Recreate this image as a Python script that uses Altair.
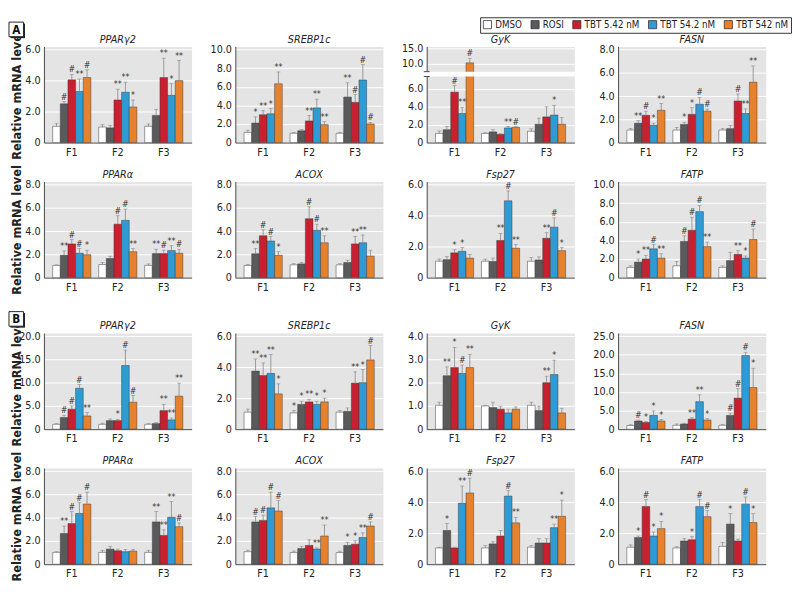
import altair as alt
import pandas as pd

treatments = ["DMSO", "ROSI", "TBT 5.42 nM", "TBT 54.2 nM", "TBT 542 nM"]
generations = ["F1", "F2", "F3"]
bar_colors = ["#ffffff", "#5a5a5c", "#c8202f", "#2f9bd5", "#e6822e"]
gene_titles = ["PPARγ2", "SREBP1c", "GyK", "FASN", "PPARα", "ACOX", "Fsp27", "FATP"]

# ---- values: order F1 (5 treatments), F2 (5), F3 (5); top = mean + SD ----
A_PPARg2_mean = [1.05, 2.5, 4.05, 3.3, 4.2, 1.0, 0.95, 2.75, 3.25, 2.3, 1.05, 1.75, 4.2, 3.05, 4.0]
A_PPARg2_top = [1.25, 2.65, 4.4, 4.1, 4.7, 1.15, 1.1, 3.45, 3.9, 2.75, 1.2, 2.15, 5.45, 3.8, 5.3]
A_PPARg2_sig = ["", "#", "#", "**", "#", "", "", "**", "**", "*", "", "", "**", "*", "**"]

A_SREBP1c_mean = [1.1, 2.1, 3.0, 3.1, 6.33, 1.0, 1.27, 2.33, 3.73, 1.93, 1.0, 4.9, 4.33, 6.73, 2.0]
A_SREBP1c_top = [1.33, 2.77, 3.43, 3.67, 7.6, 1.1, 1.4, 2.9, 4.67, 2.27, 1.1, 6.43, 5.17, 8.4, 2.17]
A_SREBP1c_sig = ["", "*", "**", "*", "**", "", "", "**", "**", "**", "", "**", "#", "#", "#"]

A_GyK_mean = [1.03, 1.44, 5.65, 3.25, 10.3, 1.03, 1.2, 0.92, 1.64, 1.7, 1.27, 2.05, 2.88, 3.08, 2.05]
A_GyK_top = [1.3, 1.8, 6.4, 3.94, 11.8, 1.1, 1.44, 1.0, 1.8, 1.78, 1.54, 2.74, 4.0, 4.18, 2.8]
A_GyK_sig = ["", "", "#", "**", "#", "", "", "", "**", "#", "", "", "", "*", ""]

A_FASN_mean = [1.08, 1.67, 2.35, 1.48, 2.78, 1.08, 1.56, 2.43, 3.3, 2.7, 1.08, 1.2, 3.58, 2.5, 5.2]
A_FASN_top = [1.2, 1.89, 2.7, 1.67, 3.37, 1.3, 1.75, 3.0, 3.9, 2.88, 1.2, 1.48, 4.18, 2.9, 6.6]
A_FASN_sig = ["", "**", "#", "*", "**", "", "*", "*", "#", "#", "", "", "#", "**", "**"]

A_PPARa_mean = [1.05, 1.92, 2.9, 2.1, 1.97, 1.13, 1.65, 4.6, 4.93, 2.23, 1.05, 2.07, 2.07, 2.33, 2.1]
A_PPARa_top = [1.1, 2.3, 3.28, 2.5, 2.36, 1.3, 1.84, 5.33, 5.9, 2.5, 1.18, 2.44, 2.36, 2.75, 2.44]
A_PPARa_sig = ["", "**", "#", "#", "*", "", "", "#", "#", "**", "", "**", "#", "**", "#"]

A_ACOX_mean = [1.05, 2.05, 3.6, 3.15, 1.92, 1.1, 1.18, 5.07, 4.07, 3.0, 1.1, 1.3, 2.9, 3.0, 1.85]
A_ACOX_top = [1.13, 2.5, 4.12, 3.54, 2.23, 1.2, 1.3, 6.1, 4.6, 3.6, 1.2, 1.5, 3.54, 3.67, 2.36]
A_ACOX_sig = ["", "**", "#", "#", "*", "", "", "#", "#", "**", "", "", "**", "**", ""]

A_Fsp27_mean = [1.06, 1.16, 1.6, 1.7, 1.26, 1.06, 1.04, 2.4, 4.96, 1.9, 1.06, 1.14, 2.54, 3.26, 1.74]
A_Fsp27_top = [1.2, 1.36, 1.8, 1.94, 1.5, 1.2, 1.26, 2.86, 5.6, 2.14, 1.3, 1.34, 2.9, 3.86, 1.94]
A_Fsp27_sig = ["", "", "*", "*", "", "", "", "**", "#", "**", "", "", "**", "#", "*"]

A_FATP_mean = [1.1, 1.67, 2.0, 3.1, 2.1, 1.27, 3.9, 5.1, 7.1, 3.33, 1.1, 1.83, 2.5, 2.1, 4.1]
A_FATP_top = [1.27, 2.0, 2.4, 3.57, 2.57, 1.73, 4.5, 6.5, 7.77, 3.83, 1.27, 2.73, 2.9, 2.33, 5.23]
A_FATP_sig = ["", "*", "**", "#", "**", "", "#", "#", "#", "**", "", "", "**", "*", "#"]

B_PPARg2_mean = [1.05, 2.5, 4.3, 8.8, 2.85, 1.05, 1.85, 1.85, 13.7, 5.8, 1.05, 1.2, 4.0, 2.0, 7.1]
B_PPARg2_top = [1.2, 3.0, 5.0, 9.6, 3.6, 1.3, 2.2, 2.1, 17.0, 7.25, 1.2, 1.4, 5.35, 2.4, 9.9]
B_PPARg2_sig = ["", "#", "#", "#", "**", "", "", "*", "#", "#", "", "", "**", "**", "**"]

B_SREBP1c_mean = [1.1, 3.75, 3.46, 3.6, 2.28, 1.05, 1.6, 1.76, 1.6, 1.76, 1.1, 1.15, 2.97, 3.0, 4.47]
B_SREBP1c_top = [1.3, 4.53, 4.28, 4.82, 2.93, 1.2, 1.8, 1.93, 1.8, 2.0, 1.2, 1.37, 3.7, 3.85, 5.4]
B_SREBP1c_sig = ["", "**", "**", "**", "*", "*", "*", "**", "*", "*", "", "", "**", "*", "#"]

B_GyK_mean = [1.03, 2.3, 2.65, 2.4, 2.65, 1.0, 0.93, 0.86, 0.7, 0.86, 1.03, 0.8, 2.0, 2.35, 0.7]
B_GyK_top = [1.16, 2.68, 3.52, 2.76, 3.22, 1.03, 1.16, 0.99, 0.86, 0.96, 1.16, 0.99, 2.28, 2.97, 0.9]
B_GyK_sig = ["", "**", "*", "#", "**", "", "", "", "", "", "", "", "**", "*", ""]

B_FASN_mean = [1.0, 2.2, 1.8, 3.7, 2.2, 1.05, 1.4, 2.7, 7.4, 2.45, 1.05, 3.7, 8.35, 19.8, 11.2]
B_FASN_top = [1.2, 2.45, 2.05, 4.9, 2.6, 1.4, 1.6, 3.1, 9.25, 2.85, 1.3, 4.3, 10.9, 20.7, 16.4]
B_FASN_sig = ["", "#", "*", "*", "*", "", "", "**", "**", "*", "", "#", "#", "#", "*"]

B_PPARa_mean = [1.02, 2.64, 3.5, 4.37, 5.18, 1.02, 1.3, 1.16, 1.08, 1.13, 1.02, 3.64, 2.48, 4.04, 3.23]
B_PPARa_top = [1.08, 3.29, 4.53, 5.31, 6.2, 1.2, 1.54, 1.3, 1.27, 1.27, 1.2, 4.53, 2.96, 5.39, 3.56]
B_PPARa_sig = ["", "**", "#", "#", "#", "", "", "", "", "", "", "**", "**", "**", "#"]

B_ACOX_mean = [1.08, 3.64, 3.77, 4.85, 4.58, 1.0, 1.35, 1.62, 1.3, 2.43, 1.0, 1.62, 1.72, 2.29, 3.29]
B_ACOX_top = [1.21, 4.1, 4.23, 6.2, 5.47, 1.13, 1.54, 2.1, 1.4, 3.37, 1.13, 1.89, 2.02, 2.7, 3.64]
B_ACOX_sig = ["", "#", "#", "#", "#", "", "", "", "**", "**", "", "*", "*", "**", "#"]

B_Fsp27_mean = [1.05, 2.18, 1.05, 3.94, 4.6, 1.05, 1.31, 1.82, 4.4, 2.67, 1.1, 1.37, 1.37, 2.36, 3.09]
B_Fsp27_top = [1.1, 2.63, 1.1, 5.05, 5.55, 1.2, 1.45, 2.18, 4.75, 3.03, 1.2, 1.65, 1.65, 2.59, 4.14]
B_Fsp27_sig = ["", "*", "", "**", "#", "", "", "", "#", "**", "", "", "", "**", "*"]

B_FATP_mean = [1.1, 1.72, 3.73, 1.82, 2.3, 1.05, 1.5, 1.58, 3.72, 3.07, 1.15, 2.59, 1.5, 3.88, 2.69]
B_FATP_top = [1.25, 1.82, 4.18, 2.08, 2.77, 1.13, 1.65, 1.78, 4.18, 3.47, 1.41, 3.27, 1.62, 4.34, 3.27]
B_FATP_sig = ["", "*", "#", "*", "*", "", "", "*", "#", "#", "", "*", "", "#", "*"]

# y-axis tick values per panel
A_ticks = [[0, 2, 4, 6], [0, 2, 4, 6, 8, 10], [0, 2, 4, 6, 10, 15], [0, 2, 4, 6, 8],
           [0, 2, 4, 6, 8], [0, 2, 4, 6, 8], [0, 2, 4, 6], [0, 2, 4, 6, 8, 10]]
B_ticks = [[0, 5, 10, 15, 20], [0, 2, 4, 6], [0, 1, 2, 3, 4], [0, 5, 10, 15, 20, 25],
           [0, 2, 4, 6, 8], [0, 2, 4, 6, 8], [0, 2, 4, 6], [0, 2, 4, 6]]

FONT = "Liberation Sans Narrow, DejaVu Sans Condensed, Arial Narrow, sans-serif"
W, H = 152, 99
ERR = "#858585"
LABEL_EXPR = "datum.value == 0 ? '0' : format(datum.value, '.1f')"


def frame(mean, top, sig):
    rows = []
    for gi, g in enumerate(generations):
        for ti, t in enumerate(treatments):
            k = gi * 5 + ti
            rows.append(dict(gen=g, treatment=t, mean=mean[k], top=top[k], sig=sig[k]))
    return pd.DataFrame(rows)


legend = alt.Legend(orient="none", legendX=449, legendY=-30, direction="horizontal", columns=5,
                    title=None, symbolType="square", symbolSize=70, symbolStrokeColor="#333",
                    symbolStrokeWidth=0.8, labelFont=FONT, labelFontSize=10, labelColor="#222",
                    labelOffset=3, columnPadding=7, padding=2.5, strokeColor="#333",
                    fillColor="white")


def label_box(letter, y0):
    d = pd.DataFrame({"lbl": [letter]})
    shadow = alt.Chart(d).mark_rect(fill="#222").encode(
        x=alt.value(-34.5), x2=alt.value(-19.5), y=alt.value(y0 + 1.5), y2=alt.value(y0 + 16.5))
    box = alt.Chart(d).mark_rect(fill="white", stroke="#222", strokeWidth=1).encode(
        x=alt.value(-36), x2=alt.value(-21), y=alt.value(y0), y2=alt.value(y0 + 15))
    txt = alt.Chart(d).mark_text(fontSize=12, fontWeight="bold", font=FONT, color="#111").encode(
        x=alt.value(-28.5), y=alt.value(y0 + 8), text="lbl:N")
    return [shadow, box, txt]


def break_marks():
    d = pd.DataFrame({"k": [0]})
    gap = alt.Chart(d).mark_rect(fill="white").encode(
        x=alt.value(-3), x2=alt.value(W + 1), y=alt.value(26), y2=alt.value(31))
    t1 = alt.Chart(d).mark_rule(color="#444", strokeWidth=1).encode(
        x=alt.value(-3), x2=alt.value(3), y=alt.value(26))
    t2 = alt.Chart(d).mark_rule(color="#444", strokeWidth=1).encode(
        x=alt.value(-3), x2=alt.value(3), y=alt.value(31))
    return [gap, t1, t2]


def panel(title, mean, top, sig, ticks, first=False, label=None, label_y=0, broken=False):
    df = frame(mean, top, sig)
    if broken:
        yscale = alt.Scale(domain=[0, 7.4, 7.41, 15.7], range=[H, 31, 26, 0], nice=False, zero=False)
    else:
        yscale = alt.Scale(domain=[0, ticks[-1] * 1.035], nice=False)
    axis_kw = dict(values=ticks, labelExpr=LABEL_EXPR, grid=True, ticks=False, labelPadding=4,
                   minExtent=19, maxExtent=19)
    if first:
        yaxis = alt.Axis(title="Relative mRNA level", titleFontSize=13, titleFontWeight="bold",
                         titlePadding=2, titleColor="#222", **axis_kw)
    else:
        yaxis = alt.Axis(title=None, **axis_kw)
    x = alt.X("gen:N", sort=generations, scale=alt.Scale(paddingInner=0.17, paddingOuter=0.19),
              axis=alt.Axis(title=None, labelAngle=0, ticks=False, labelPadding=4, grid=False))
    xo = alt.XOffset("treatment:N", sort=treatments, scale=alt.Scale(paddingInner=0, paddingOuter=0))
    base = alt.Chart(df).encode(x=x, xOffset=xo)
    bars = base.mark_bar(stroke="#3a3a3a", strokeWidth=0.5).encode(
        y=alt.Y("mean:Q", scale=yscale, axis=yaxis),
        color=alt.Color("treatment:N", sort=treatments,
                        scale=alt.Scale(domain=treatments, range=bar_colors), legend=legend))
    rules = base.mark_rule(color=ERR, strokeWidth=0.8).encode(
        y=alt.Y("mean:Q", scale=yscale, axis=yaxis), y2="top:Q")
    caps = base.mark_tick(color=ERR, thickness=0.8, size=4, orient="horizontal").encode(
        y=alt.Y("top:Q", scale=yscale, axis=yaxis))
    marks = base.transform_filter("datum.sig != ''").mark_text(
        fontSize=9, color="#333", baseline="alphabetic", dy=-2, font=FONT).encode(
        y=alt.Y("top:Q", scale=yscale, axis=yaxis), text="sig:N")
    ttl = alt.Chart(pd.DataFrame({"t": [title]})).mark_text(
        fontSize=11, fontStyle="italic", font=FONT, color="#222", baseline="alphabetic").encode(
        x=alt.value(W / 2), y=alt.value(-4), text="t:N")
    layers = [bars, rules, caps, marks]
    if broken:
        layers += break_marks()
    layers.append(ttl)
    if label:
        layers += label_box(label, label_y)
    return alt.layer(*layers).properties(width=W, height=H)


A_data = [(A_PPARg2_mean, A_PPARg2_top, A_PPARg2_sig), (A_SREBP1c_mean, A_SREBP1c_top, A_SREBP1c_sig),
          (A_GyK_mean, A_GyK_top, A_GyK_sig), (A_FASN_mean, A_FASN_top, A_FASN_sig),
          (A_PPARa_mean, A_PPARa_top, A_PPARa_sig), (A_ACOX_mean, A_ACOX_top, A_ACOX_sig),
          (A_Fsp27_mean, A_Fsp27_top, A_Fsp27_sig), (A_FATP_mean, A_FATP_top, A_FATP_sig)]
B_data = [(B_PPARg2_mean, B_PPARg2_top, B_PPARg2_sig), (B_SREBP1c_mean, B_SREBP1c_top, B_SREBP1c_sig),
          (B_GyK_mean, B_GyK_top, B_GyK_sig), (B_FASN_mean, B_FASN_top, B_FASN_sig),
          (B_PPARa_mean, B_PPARa_top, B_PPARa_sig), (B_ACOX_mean, B_ACOX_top, B_ACOX_sig),
          (B_Fsp27_mean, B_Fsp27_top, B_Fsp27_sig), (B_FATP_mean, B_FATP_top, B_FATP_sig)]


def section(data, ticks, letter, letter_y, broken_gyk):
    rows = []
    for r in range(2):
        cells = []
        for c in range(4):
            i = r * 4 + c
            m, t, s = data[i]
            cells.append(panel(gene_titles[i], m, t, s, ticks[i], first=(c == 0),
                               label=letter if (r == 0 and c == 0) else None, label_y=letter_y,
                               broken=(broken_gyk and i == 2)))
        rows.append(alt.hconcat(*cells, spacing=45, bounds="flush"))
    return alt.vconcat(*rows, spacing=4)


secA = section(A_data, A_ticks, "A", -25, True)
secB = section(B_data, B_ticks, "B", -22, False)

chart = alt.vconcat(secA, secB, spacing=16).properties(
    padding=0, background="white"
).configure_view(
    fill="#e4e4e4", stroke="transparent"
).configure_axis(
    labelFont=FONT, titleFont=FONT, labelFontSize=11, labelColor="#222",
    domainColor="#444", domainWidth=1, gridColor="white", gridWidth=1
)

chart.save("out.html", embed_options={"renderer": "svg", "actions": False})
